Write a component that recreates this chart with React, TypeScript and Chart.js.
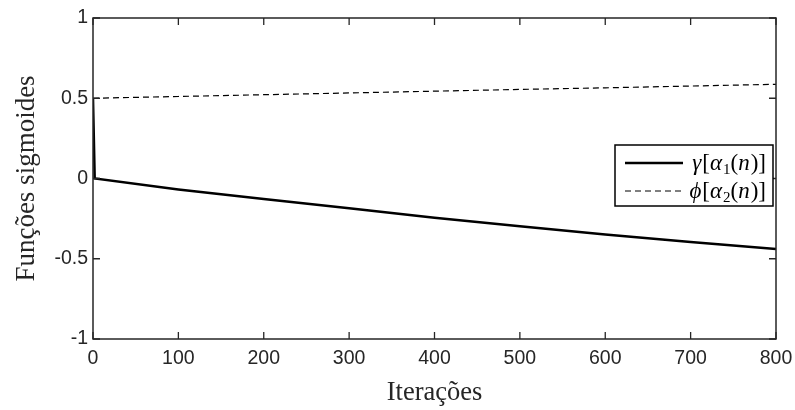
import React, { useEffect, useRef } from "react";
import { Chart, registerables } from "chart.js";

Chart.register(...registerables);

const gammaIter: number[] = [0, 2, 100, 200, 300, 400, 500, 600, 700, 800];
const gammaValues: number[] = [0.5, 0, -0.068, -0.127, -0.185, -0.244, -0.297, -0.349, -0.396, -0.44];
const phiIter: number[] = [0, 100, 200, 300, 400, 500, 600, 700, 800];
const phiValues: number[] = [0.5, 0.511, 0.522, 0.533, 0.544, 0.555, 0.565, 0.576, 0.587];
const xTicks: number[] = [0, 100, 200, 300, 400, 500, 600, 700, 800];
const yTicks: number[] = [-1, -0.5, 0, 0.5, 1];
const xTitle = "Iterações";
const yTitle = "Funções sigmoides";

const AXIS_COLOR = "#262626";
const SERIF = '"Liberation Serif", "Times New Roman", serif';
const SANS = '"Liberation Sans", Arial, sans-serif';

type Piece = { t: string; italic?: boolean; sub?: boolean };
const legendItems: { pieces: Piece[]; dash: number[]; width: number }[] = [
  {
    pieces: [
      { t: "γ", italic: true },
      { t: "[" },
      { t: "α", italic: true },
      { t: "1", sub: true },
      { t: "(" },
      { t: "n", italic: true },
      { t: ")]" },
    ],
    dash: [],
    width: 2.5,
  },
  {
    pieces: [
      { t: "ϕ", italic: true },
      { t: "[" },
      { t: "α", italic: true },
      { t: "2", sub: true },
      { t: "(" },
      { t: "n", italic: true },
      { t: ")]" },
    ],
    dash: [6, 4],
    width: 1.2,
  },
];

const framePlugin = {
  id: "framePlugin",
  afterDraw(chart: any) {
    const { ctx, chartArea } = chart;
    const { left, right, top, bottom } = chartArea;
    const xs = chart.scales.x;
    const ys = chart.scales.y;
    ctx.save();
    ctx.strokeStyle = AXIS_COLOR;
    ctx.lineWidth = 1.5;
    ctx.setLineDash([]);
    ctx.strokeRect(left, top, right - left, bottom - top);
    const tl = 7;
    ctx.lineWidth = 1.3;
    ctx.beginPath();
    xTicks.forEach((v) => {
      const px = xs.getPixelForValue(v);
      ctx.moveTo(px, bottom);
      ctx.lineTo(px, bottom - tl);
      ctx.moveTo(px, top);
      ctx.lineTo(px, top + tl);
    });
    yTicks.forEach((v) => {
      const py = ys.getPixelForValue(v);
      ctx.moveTo(left, py);
      ctx.lineTo(left + tl, py);
      ctx.moveTo(right, py);
      ctx.lineTo(right - tl, py);
    });
    ctx.stroke();

    ctx.fillStyle = AXIS_COLOR;
    ctx.textAlign = "center";
    ctx.textBaseline = "middle";
    ctx.font = `26.5px ${SERIF}`;
    ctx.fillText(xTitle, (left + right) / 2, 393);
    ctx.save();
    ctx.translate(27, (top + bottom) / 2);
    ctx.rotate(-Math.PI / 2);
    ctx.font = `27px ${SERIF}`;
    ctx.fillText(yTitle, 0, 0);
    ctx.restore();

    const bx = 615, by = 145, bw = 158, bh = 61;
    ctx.fillStyle = "#ffffff";
    ctx.fillRect(bx, by, bw, bh);
    ctx.strokeStyle = "#000000";
    ctx.lineWidth = 1.5;
    ctx.strokeRect(bx, by, bw, bh);
    const rows = [163, 191];
    legendItems.forEach((item, i) => {
      const y = rows[i];
      ctx.strokeStyle = "#000000";
      ctx.lineWidth = item.width;
      ctx.setLineDash(item.dash);
      ctx.beginPath();
      ctx.moveTo(625, y);
      ctx.lineTo(683, y);
      ctx.stroke();
      ctx.setLineDash([]);
      const fontFor = (p: Piece) =>
        p.sub ? `15px ${SERIF}` : p.italic ? `italic 23px ${SERIF}` : `23px ${SERIF}`;
      let total = 0;
      item.pieces.forEach((p) => {
        ctx.font = fontFor(p);
        total += ctx.measureText(p.t).width + (p.italic ? 1 : 0);
      });
      let x = 766 - total;
      ctx.fillStyle = "#000000";
      ctx.textAlign = "left";
      ctx.textBaseline = "alphabetic";
      item.pieces.forEach((p) => {
        ctx.font = fontFor(p);
        ctx.fillText(p.t, x, y + 7 + (p.sub ? 4 : 0));
        x += ctx.measureText(p.t).width + (p.italic ? 1 : 0);
      });
    });
    ctx.restore();
  },
};

export default function App() {
  const ref = useRef<HTMLCanvasElement | null>(null);
  useEffect(() => {
    if (!ref.current) return;
    const chart = new Chart(ref.current, {
      type: "line",
      data: {
        datasets: [
          {
            label: "gamma",
            data: gammaIter.map((x, i) => ({ x, y: gammaValues[i] })),
            borderColor: "#000000",
            borderWidth: 2.5,
            pointRadius: 0,
            tension: 0,
            fill: false,
          },
          {
            label: "phi",
            data: phiIter.map((x, i) => ({ x, y: phiValues[i] })),
            borderColor: "#000000",
            borderWidth: 1.2,
            borderDash: [6, 4],
            pointRadius: 0,
            tension: 0,
            fill: false,
          },
        ],
      },
      options: {
        animation: false,
        responsive: false,
        layout: { padding: { top: 18, right: 19, left: 0, bottom: 0 } },
        plugins: { legend: { display: false }, tooltip: { enabled: false } },
        scales: {
          x: {
            type: "linear",
            min: 0,
            max: 800,
            afterFit: (s: any) => {
              s.height = 71;
              s.paddingLeft = 0;
              s.paddingRight = 0;
            },
            afterBuildTicks: (s: any) => {
              s.ticks = xTicks.map((v) => ({ value: v }));
            },
            grid: { display: false, drawTicks: false },
            border: { display: false },
            ticks: {
              color: AXIS_COLOR,
              font: { family: SANS, size: 19.5 },
              padding: 8,
              maxRotation: 0,
            },
          },
          y: {
            type: "linear",
            min: -1,
            max: 1,
            afterFit: (s: any) => {
              s.width = 93;
              s.paddingTop = 0;
              s.paddingBottom = 0;
            },
            afterBuildTicks: (s: any) => {
              s.ticks = yTicks.map((v) => ({ value: v }));
            },
            grid: { display: false, drawTicks: false },
            border: { display: false },
            ticks: {
              color: AXIS_COLOR,
              font: { family: SANS, size: 19.5 },
              padding: 5,
              callback: (v: any) => String(v),
            },
          },
        },
      },
      plugins: [framePlugin],
    });
    return () => chart.destroy();
  }, []);
  return (
    <div style={{ position: "fixed", left: 0, top: 0, width: 795, height: 410, background: "#fff" }}>
      <canvas ref={ref} width={795} height={410} style={{ width: 795, height: 410 }} />
    </div>
  );
}
